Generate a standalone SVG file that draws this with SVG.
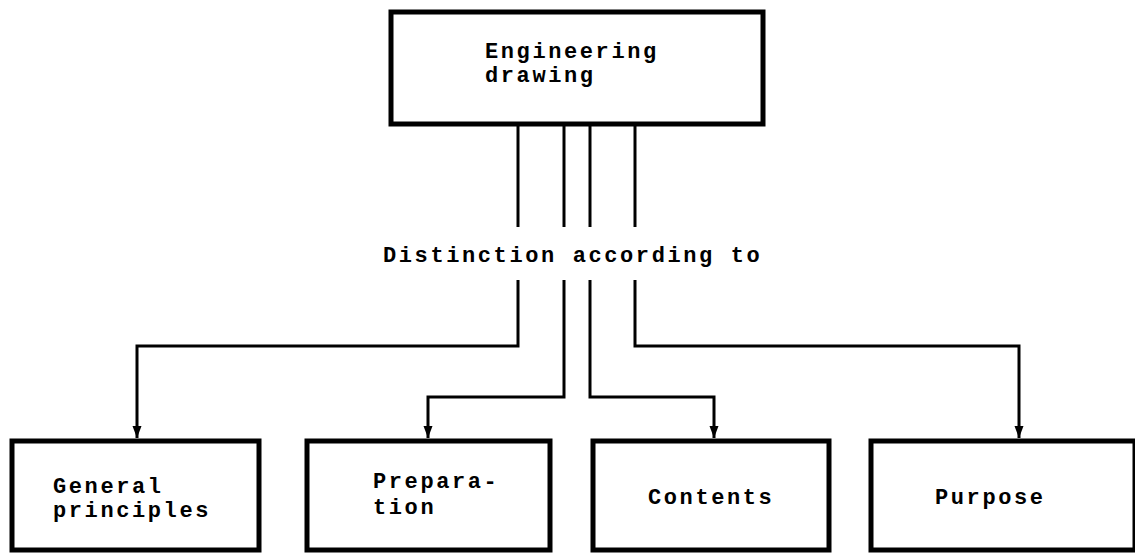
<svg xmlns="http://www.w3.org/2000/svg" width="1135" height="553" viewBox="0 0 1135 553">
  <style>
    .box { fill: #ffffff; stroke: #000000; stroke-width: 5; }
    .label { font-family: "Liberation Mono", "DejaVu Sans Mono", monospace; font-weight: bold; font-size: 22px; letter-spacing: 2.6px; fill: #000000; }
    .wire { fill: none; stroke: #000000; stroke-width: 3; stroke-linejoin: miter; }
  </style>
  <defs>
    <marker id="arrow" markerUnits="userSpaceOnUse" markerWidth="14" markerHeight="12" refX="12" refY="0" viewBox="0 -6 14 12" orient="auto">
      <path d="M0,-4.5 L12,0 L0,4.5 Z" fill="#000000"/>
    </marker>
  </defs>

  <rect width="1135" height="553" fill="#ffffff"/>

  <!-- root node -->
  <g id="engineering-drawing">
    <rect class="box" x="391" y="12" width="372" height="112"/>
    <text class="label" x="485" y="58">Engineering</text>
    <text class="label" x="485" y="82">drawing</text>
  </g>

  <!-- connectors -->
  <g id="connectors">
    <line class="wire" x1="518" y1="124" x2="518" y2="227"/>
    <line class="wire" x1="564" y1="124" x2="564" y2="227"/>
    <line class="wire" x1="590" y1="124" x2="590" y2="227"/>
    <line class="wire" x1="635" y1="124" x2="635" y2="227"/>

    <path class="wire" d="M518,280 V346 H137 V438" marker-end="url(#arrow)"/>
    <path class="wire" d="M564,280 V397 H428 V438" marker-end="url(#arrow)"/>
    <path class="wire" d="M590,280 V397 H714 V438" marker-end="url(#arrow)"/>
    <path class="wire" d="M635,280 V346 H1019 V438" marker-end="url(#arrow)"/>
  </g>

  <text class="label" x="383" y="262">Distinction according to</text>

  <!-- child nodes -->
  <g id="general-principles">
    <rect class="box" x="12" y="441" width="247" height="109"/>
    <text class="label" x="53" y="493">General</text>
    <text class="label" x="53" y="517">principles</text>
  </g>

  <g id="preparation">
    <rect class="box" x="307" y="441" width="243" height="109"/>
    <text class="label" x="373" y="488">Prepara-</text>
    <text class="label" x="373" y="514">tion</text>
  </g>

  <g id="contents">
    <rect class="box" x="593" y="441" width="236" height="109"/>
    <text class="label" x="648" y="504">Contents</text>
  </g>

  <g id="purpose">
    <rect class="box" x="871" y="441" width="264" height="109"/>
    <text class="label" x="935" y="504">Purpose</text>
  </g>
</svg>
